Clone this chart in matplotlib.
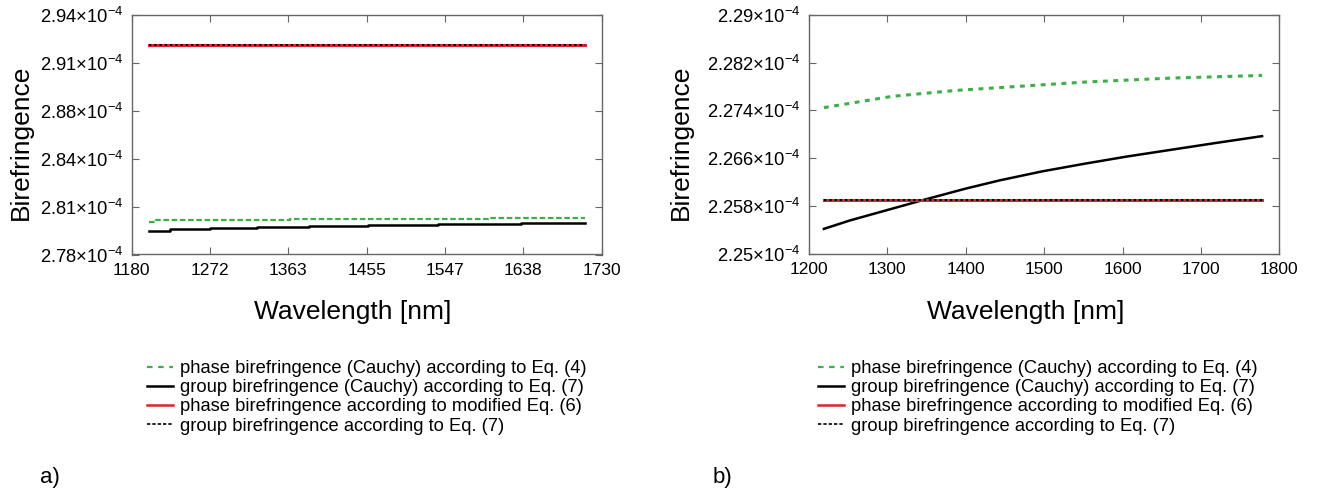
import matplotlib
matplotlib.use("Agg")
import matplotlib.pyplot as plt
from matplotlib.lines import Line2D

plt.rcParams["font.family"] = ["Liberation Sans", "DejaVu Sans"]
plt.rcParams["mathtext.fontset"] = "custom"
plt.rcParams["mathtext.rm"] = "Liberation Sans"
plt.rcParams["mathtext.it"] = "Liberation Sans:italic"

# ---- panel a) data (birefringence in units of 1e-4) ----
wl_a_phase_cauchy = [1200, 1208, 1365, 1597, 1710]
bf_a_phase_cauchy = [2.8019, 2.8031, 2.8037, 2.8044]
wl_a_group_cauchy = [1200, 1225, 1272, 1327, 1387, 1457, 1539, 1636, 1710]
bf_a_group_cauchy = [2.7959, 2.7968, 2.7975, 2.7982, 2.7988, 2.7995, 2.8002, 2.8008]
wl_a_flat = [1200, 1710]
bf_a_phase_mod = [2.920, 2.920]
bf_a_group = [2.920, 2.920]

xticks_a = [1180, 1271.67, 1363.33, 1455, 1546.67, 1638.33, 1730]
xlabels_a = ["1180", "1272", "1363", "1455", "1547", "1638", "1730"]
yticks_a = [2.78, 2.812, 2.844, 2.876, 2.908, 2.94]
ylabels_a = ["2.78", "2.81", "2.84", "2.88", "2.91", "2.94"]

# ---- panel b) data ----
wl_b_phase_cauchy = [1219, 1306, 1388, 1552, 1661, 1778]
bf_b_phase_cauchy = [2.27447, 2.27635, 2.27735, 2.27874, 2.2794, 2.27985]
wl_b_group_cauchy = [1219, 1252, 1304, 1345, 1399, 1443, 1497, 1552, 1606, 1661, 1716, 1778]
bf_b_group_cauchy = [2.2542, 2.2556, 2.2575, 2.2590, 2.2609, 2.2623, 2.2638, 2.2651,
                     2.2663, 2.2674, 2.2685, 2.2697]
wl_b_flat = [1219, 1778]
bf_b_phase_mod = [2.2590, 2.2590]
bf_b_group = [2.2590, 2.2590]

xticks_b = [1200, 1300, 1400, 1500, 1600, 1700, 1800]
xlabels_b = ["1200", "1300", "1400", "1500", "1600", "1700", "1800"]
yticks_b = [2.25, 2.258, 2.266, 2.274, 2.282, 2.29]
ylabels_b = ["2.25", "2.258", "2.266", "2.274", "2.282", "2.29"]

legend_labels = [
    "phase birefringence (Cauchy) according to Eq. (4)",
    "group birefringence (Cauchy) according to Eq. (7)",
    "phase birefringence according to modified Eq. (6)",
    "group birefringence according to Eq. (7)",
]

GREEN = "#3fae4a"
RED = "#d8262a"
SPINE = "#666666"

W, H = 1327, 494
fig = plt.figure(figsize=(W / 100, H / 100), dpi=100)
ax_a = fig.add_axes([131.7 / W, 1 - 254.5 / H, 470 / W, 239.5 / H])
ax_b = fig.add_axes([809 / W, 1 - 254 / H, 470.3 / W, 239.3 / H])


def style_axes(ax, xticks, xlabels, yticks, ylabels):
    ax.set_xlim(xticks[0], xticks[-1])
    ax.set_ylim(yticks[0], yticks[-1])
    ax.set_xticks(xticks)
    ax.set_xticklabels(xlabels)
    ax.set_yticks(yticks)
    ax.set_yticklabels([l + r"×10$^{-4}$" for l in ylabels])
    ax.tick_params(direction="in", length=5, width=0.8, color=SPINE,
                   top=True, right=True, labelsize=12.5, pad=6)
    ax.tick_params(axis="y", labelsize=13.2)
    for s in ax.spines.values():
        s.set_color(SPINE)
        s.set_linewidth(1.0)
    ax.set_xlabel("Wavelength [nm]", fontsize=19)
    ax.set_ylabel("Birefringence", fontsize=19)


# panel a
ax_a.plot(wl_a_phase_cauchy, bf_a_phase_cauchy + bf_a_phase_cauchy[-1:],
          drawstyle="steps-post", color=GREEN, lw=1.6, dashes=(2.5, 1.2))
ax_a.plot(wl_a_group_cauchy, bf_a_group_cauchy + bf_a_group_cauchy[-1:],
          drawstyle="steps-post", color="black", lw=1.8)
ax_a.plot(wl_a_flat, bf_a_phase_mod, color=RED, lw=2.2)
ax_a.plot(wl_a_flat, bf_a_group, color="black", lw=1.4, dashes=(1.2, 1.5))
style_axes(ax_a, xticks_a, xlabels_a, yticks_a, ylabels_a)
ax_a.xaxis.set_label_coords((353 - 131.7) / 470, -(300 - 254.5) / 239.5)
ax_a.yaxis.set_label_coords((33 - 131.7) / 470, 0.468)

# panel b
ax_b.plot(wl_b_phase_cauchy, bf_b_phase_cauchy, color=GREEN, lw=2.2, dashes=(1.6, 1.8))
ax_b.plot(wl_b_group_cauchy, bf_b_group_cauchy, color="black", lw=1.8)
ax_b.plot(wl_b_flat, bf_b_phase_mod, color=RED, lw=2.2)
ax_b.plot(wl_b_flat, bf_b_group, color="black", lw=1.4, dashes=(1.2, 1.5))
style_axes(ax_b, xticks_b, xlabels_b, yticks_b, ylabels_b)
ax_b.xaxis.set_label_coords((1026 - 809) / 470.3, -(300 - 254) / 239.3)
ax_b.yaxis.set_label_coords((693 - 809) / 470.3, 0.468)

# legends (proxy handles)
handles = [
    Line2D([], [], color=GREEN, lw=1.6, dashes=(2.5, 2.5)),
    Line2D([], [], color="black", lw=1.8),
    Line2D([], [], color=RED, lw=1.8),
    Line2D([], [], color="black", lw=1.2, dashes=(2.0, 1.2)),
]
for ax, x0 in [(ax_a, 147), (ax_b, 818)]:
    ax.legend(handles, legend_labels, loc="upper left",
              bbox_to_anchor=(x0 / W, 1 - 360 / H), bbox_transform=fig.transFigure,
              frameon=False, fontsize=13.2, handlelength=1.4, handletextpad=0.4,
              labelspacing=0.12, borderpad=0, borderaxespad=0)

fig.text(50 / W, 1 - 477 / H, "a)", fontsize=16, ha="center", va="center")
fig.text(722 / W, 1 - 477 / H, "b)", fontsize=16, ha="center", va="center")

fig.savefig("out.png", dpi=100)
